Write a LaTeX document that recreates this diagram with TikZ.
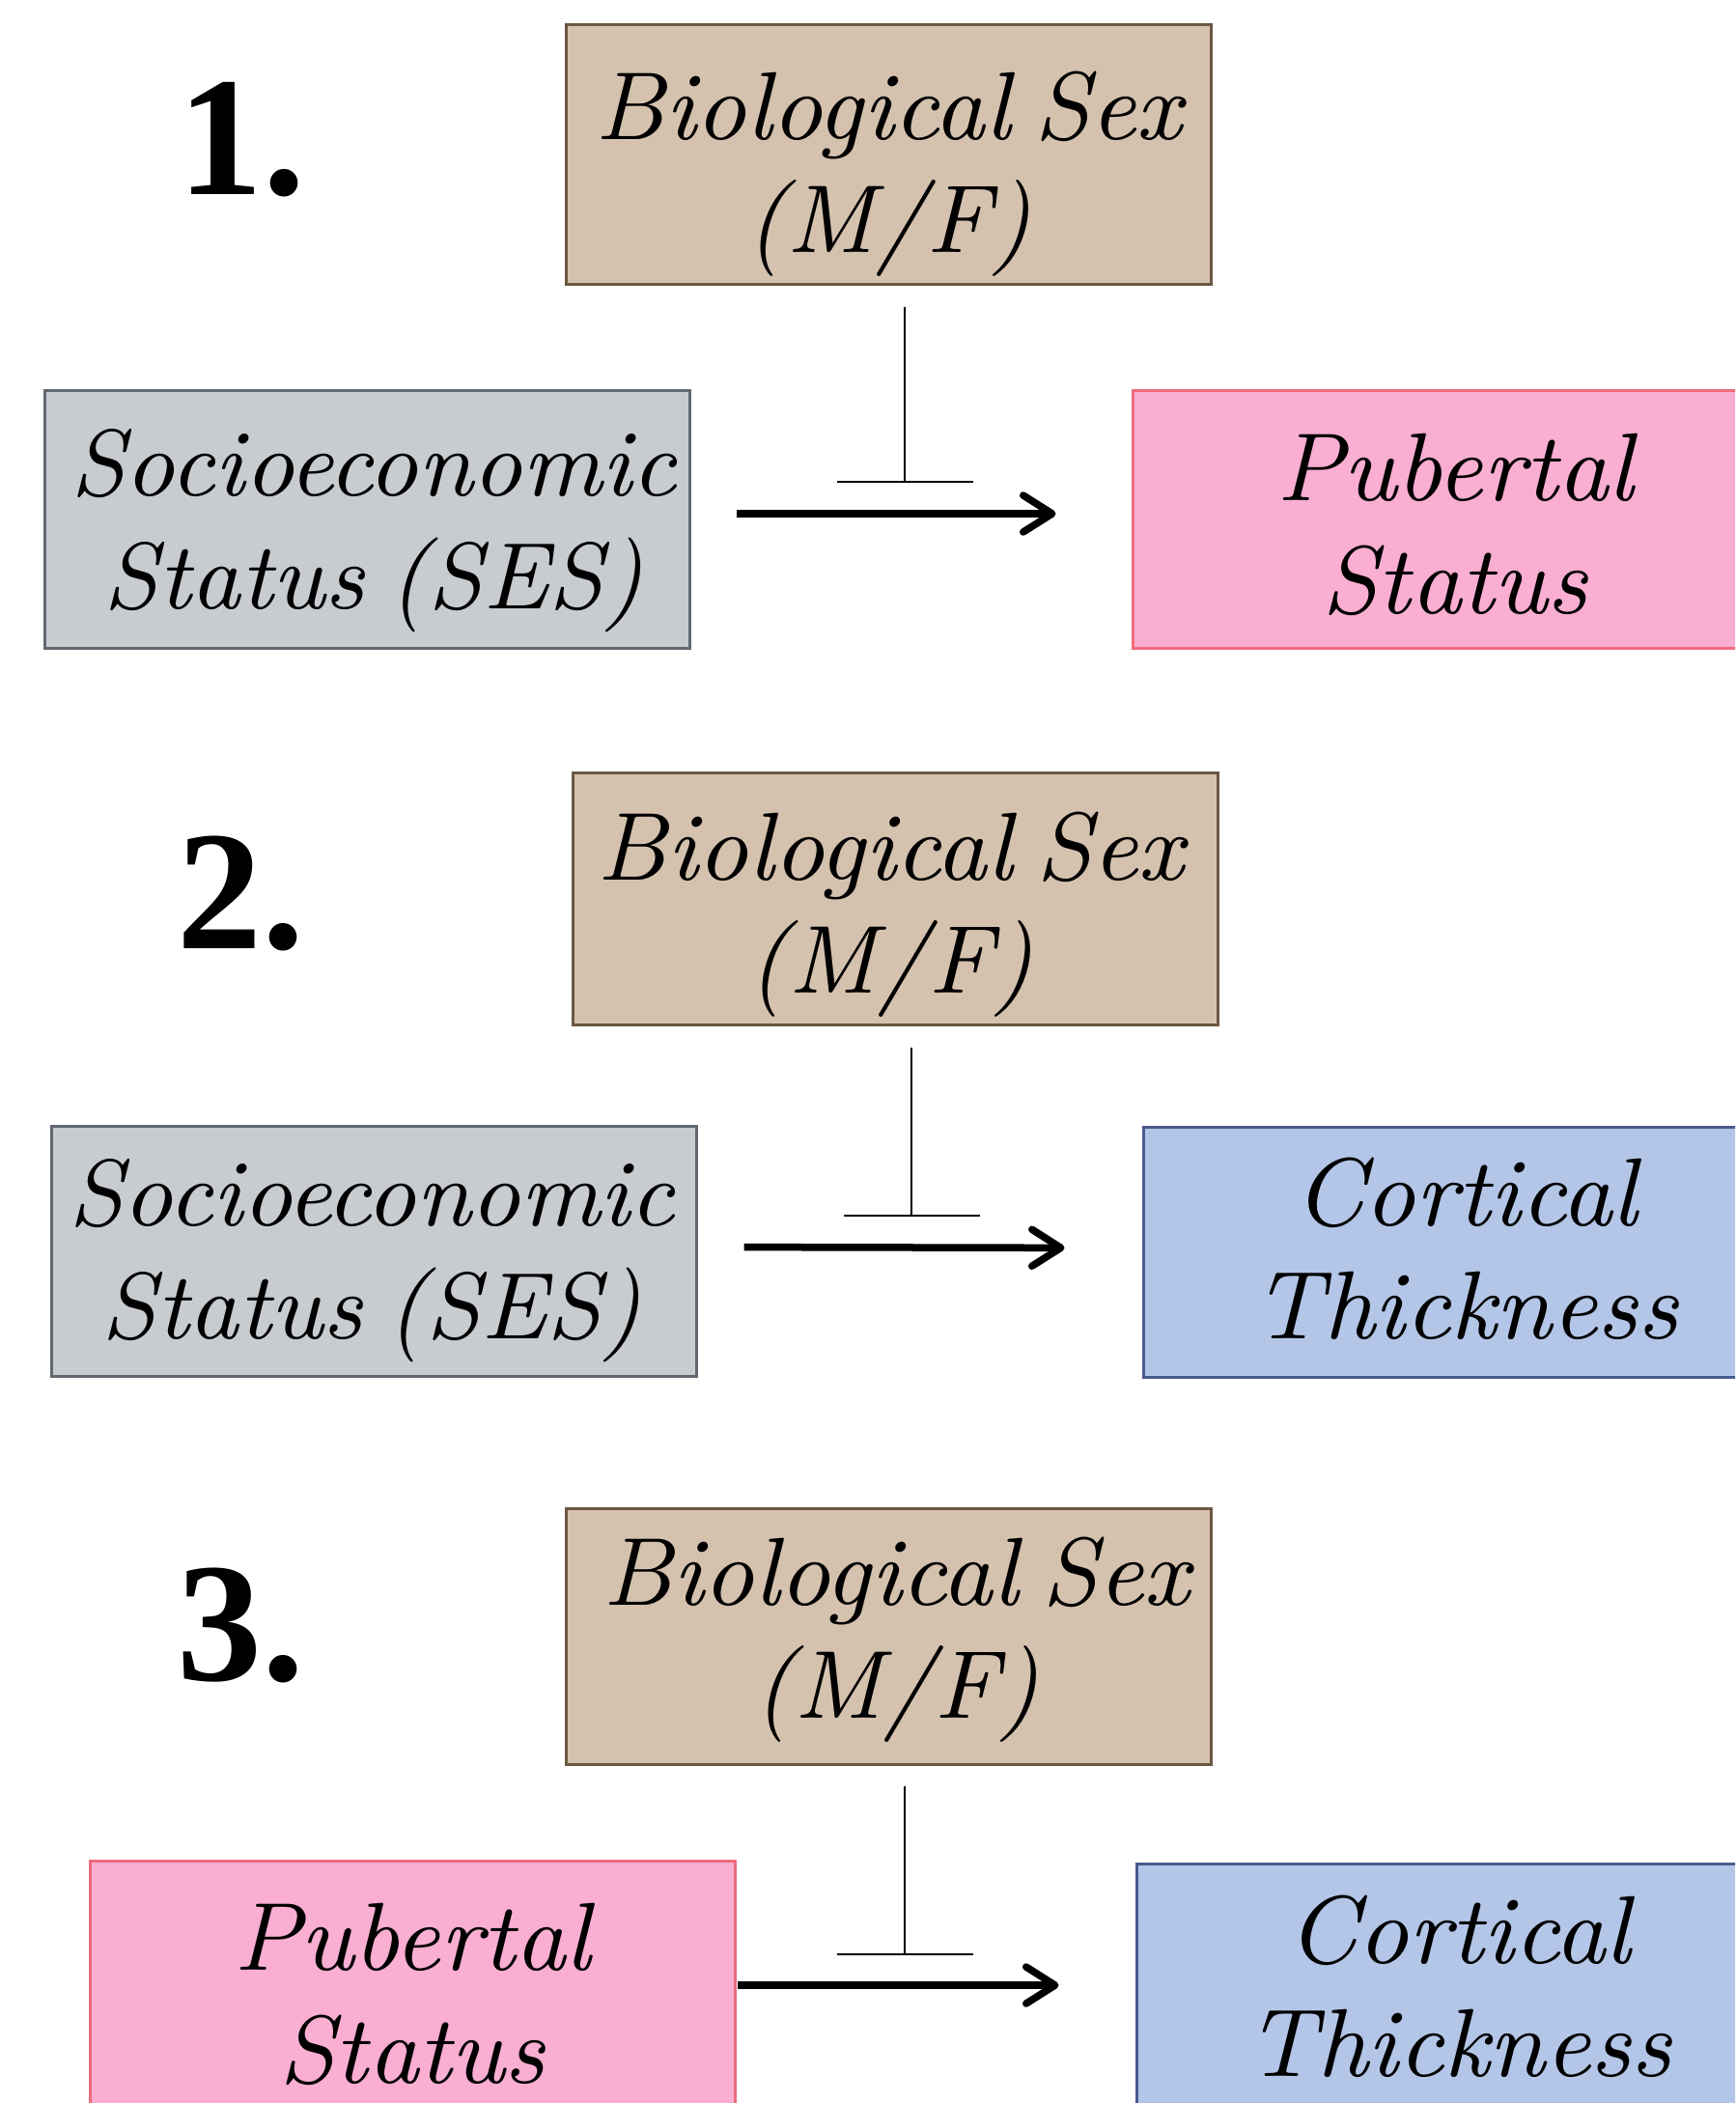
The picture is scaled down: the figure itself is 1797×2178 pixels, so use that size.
\documentclass[tikz,border=0pt]{standalone}
\usepackage{fontspec}
\setmainfont{Latin Modern Roman}
\newfontfamily\boxfont{lmroman9-italic}[Extension=.otf, WordSpace=0.7]
\newfontfamily\numfont{Liberation Serif}
\usetikzlibrary{arrows.meta}
\definecolor{bioF}{HTML}{D4C2AF}
\definecolor{bioD}{HTML}{6B5843}
\definecolor{sesF}{HTML}{C8CCD0}
\definecolor{sesD}{HTML}{626870}
\definecolor{pubF}{HTML}{F9AED2}
\definecolor{pubD}{HTML}{EE6C7E}
\definecolor{corF}{HTML}{B4C6E7}
\definecolor{corD}{HTML}{4A5A8E}
% two centred lines, box baseline = first line
\newcommand{\twol}[3][0pt]{\kern#1\vtop{\halign{\hfil##\hfil\cr #2\cr #3\cr}}}
\tikzset{
  box/.style={draw, line width=3pt, rectangle, inner sep=0pt,
    minimum width=668pt, minimum height=267pt,
    font=\boxfont\fontsize{100}{117}\selectfont},
  off/.style={text height=100pt, text depth=#1},
  biobox/.style={box, fill=bioF, draw=bioD},
  sesbox/.style={box, fill=sesF, draw=sesD, font=\boxfont\fontsize{98}{117}\selectfont},
  pubbox/.style={box, fill=pubF, draw=pubD},
  corbox/.style={box, fill=corF, draw=corD},
  num/.style={anchor=base, inner sep=0pt, font=\fontsize{176}{176}\selectfont\numfont\bfseries},
  arr/.style={line width=7.5pt, -{Straight Barb[length=30pt,width=38pt,line cap=round,line join=round]}},
  inh/.style={line width=2.2pt, -{Bar[width=141pt,line width=2.2pt]}},
}
\begin{document}
\begin{tikzpicture}[x=1pt,y=-1pt]
\clip (0,0) rectangle (1797,2178);
\fill[white] (0,0) rectangle (1797,2178);

% ---------- panel 1
\node[num] (n1) at (250,202) {1.};
\node[biobox, off=130pt, minimum height=268pt] (bio1) at (920.5,160) {\twol{Biological Sex}{(M/F)}};
\node[sesbox, off=149pt] (ses1) at (380,537.5) {\twol[14pt]{Socioeconomic}{Status (SES)}};
\node[pubbox, off=139pt] (pub1) at (1507,537.5) {\twol{Pubertal}{Status}};
\coordinate (t1) at (937,500);
\draw[inh, shorten <=22pt] (bio1.south -| t1) -- (t1);
\draw[arr, shorten <=47pt, shorten >=78pt] ([yshift=5.5pt]ses1.east) -- ([yshift=5.5pt]pub1.west);

% ---------- panel 2
\node[num] (n2) at (249,982) {2.};
\node[biobox, off=139pt, minimum height=261pt] (bio2) at (927.5,930.5) {\twol[-10pt]{Biological Sex}{(M/F)}};
\node[sesbox, off=153pt, minimum height=259pt] (ses2) at (387,1295.5) {\twol[-4pt]{Socioeconomic}{Status (SES)}};
\node[corbox, off=155pt, minimum height=259pt] (cor2) at (1518,1296.5) {\twol{Cortical}{Thickness}};
\coordinate (t2) at (944,1260);
\draw[inh, shorten <=22pt] (bio2.south -| t2) -- (t2);
\draw[arr, shorten <=48pt, shorten >=80pt] ([yshift=4pt]ses2.east) -- ([yshift=4pt]cor2.west);

% ---------- panel 3
\node[num] (n3) at (249,1740) {3.};
\node[biobox, off=165pt, minimum height=261pt] (bio3) at (920.5,1694.5) {\twol[16pt]{Biological Sex}{(M/F)}};
\node[pubbox, off=140pt] (pub3) at (427,2060.5) {\twol{Pubertal}{Status}};
\node[corbox, off=161pt] (cor3) at (1511,2063.5) {\twol{Cortical}{Thickness}};
\coordinate (t3) at (937,2025);
\draw[inh, shorten <=21pt] (bio3.south -| t3) -- (t3);
\draw[arr, shorten <=1pt, shorten >=79pt] ([yshift=4.5pt]pub3.east) -- ([yshift=7.5pt]cor3.west);
\end{tikzpicture}
\end{document}
